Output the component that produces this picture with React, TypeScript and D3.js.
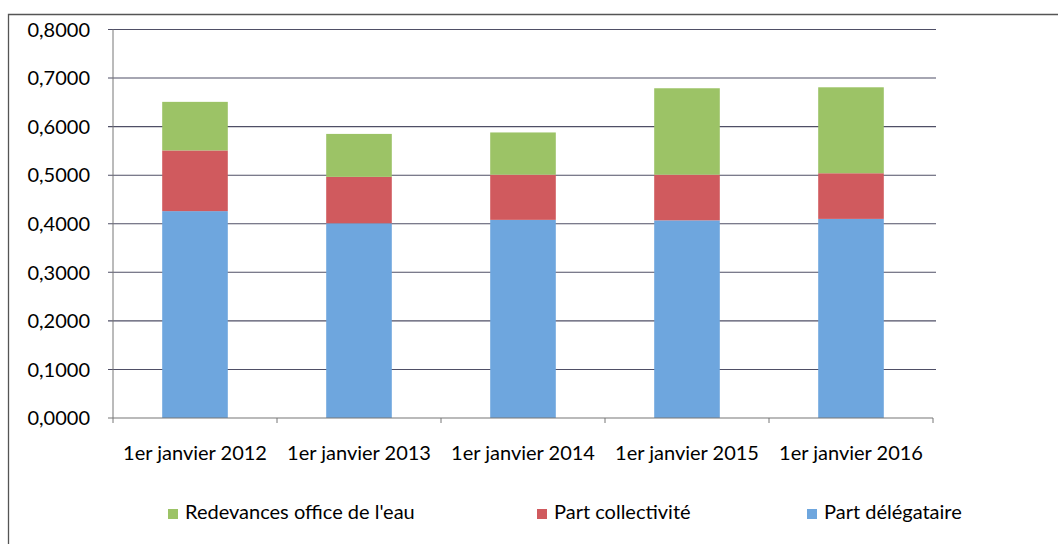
import { useEffect, useRef } from 'react';
import * as d3 from 'd3';

const categories = [
  '1er janvier 2012',
  '1er janvier 2013',
  '1er janvier 2014',
  '1er janvier 2015',
  '1er janvier 2016',
];

// stacked bottom to top
const partDelegataire = [0.426, 0.401, 0.408, 0.407, 0.410];
const partCollectivite = [0.125, 0.0955, 0.093, 0.094, 0.094];
const redevances = [0.100, 0.0885, 0.087, 0.178, 0.177];

const yTicks = [0, 0.1, 0.2, 0.3, 0.4, 0.5, 0.6, 0.7, 0.8];

const series = [
  { key: 'delegataire', label: 'Part délégataire', values: partDelegataire, color: '#6ea6de' },
  { key: 'collectivite', label: 'Part collectivité', values: partCollectivite, color: '#d05a5e' },
  { key: 'redevances', label: "Redevances office de l'eau", values: redevances, color: '#9cc366' },
];

// legend order as shown in the picture
const legendOrder = ['redevances', 'collectivite', 'delegataire'];

export default function App() {
  const svgRef = useRef<SVGSVGElement>(null);

  useEffect(() => {
    if (!svgRef.current) return;
    const W = 1058;
    const H = 544;
    const font = 'Lato, "Open Sans", sans-serif';
    const fontSize = 20;

    const svg = d3.select(svgRef.current);
    svg.selectAll('*').remove();
    svg.attr('width', W).attr('height', H);

    svg.append('rect').attr('width', W).attr('height', H).attr('fill', '#fff');

    // outer frame (top + left visible)
    svg.append('path')
      .attr('d', `M8.5,${H} V14.5 H${W}`)
      .attr('fill', 'none')
      .attr('stroke', '#555')
      .attr('stroke-width', 1.3);

    const left = 113;
    const right = 933;
    const top = 29.5;
    const bottom = 418;

    const x = d3.scaleBand<string>()
      .domain(categories)
      .range([left, right])
      .paddingInner(0.6)
      .paddingOuter(0.3);

    const y = d3.scaleLinear().domain([0, 0.8]).range([bottom, top]);

    // gridlines
    svg.append('g')
      .selectAll('line')
      .data(yTicks.filter(t => t > 0))
      .enter()
      .append('line')
      .attr('x1', left - 5)
      .attr('x2', right + 3)
      .attr('y1', d => y(d))
      .attr('y2', d => y(d))
      .attr('stroke', '#4f4f66')
      .attr('stroke-width', 1.1);

    // y labels
    svg.append('g')
      .selectAll('text')
      .data(yTicks)
      .enter()
      .append('text')
      .attr('x', 90)
      .attr('y', d => y(d))
      .attr('dy', '0.36em')
      .attr('text-anchor', 'end')
      .attr('font-family', font)
      .attr('font-size', fontSize)
      .attr('fill', '#000')
      .text(d => d.toFixed(4).replace('.', ','));

    // stacked bars
    const table = categories.map((c, i) => {
      const row: Record<string, number | string> = { cat: c };
      series.forEach(s => { row[s.key] = s.values[i]; });
      return row;
    });
    const stack = d3.stack<Record<string, number | string>>()
      .keys(series.map(s => s.key))
      .value((d, k) => d[k] as number);
    const stacked = stack(table);

    const layers = svg.append('g')
      .selectAll('g')
      .data(stacked)
      .enter()
      .append('g')
      .attr('fill', (_, i) => series[i].color);

    layers.selectAll('rect')
      .data(d => d)
      .enter()
      .append('rect')
      .attr('x', d => x(d.data.cat as string) || 0)
      .attr('width', x.bandwidth())
      .attr('y', d => y(d[1]))
      .attr('height', d => y(d[0]) - y(d[1]));

    // axes lines
    svg.append('line')
      .attr('x1', left).attr('x2', left)
      .attr('y1', top).attr('y2', bottom)
      .attr('stroke', '#777').attr('stroke-width', 1);
    svg.append('line')
      .attr('x1', left - 5).attr('x2', right)
      .attr('y1', bottom).attr('y2', bottom)
      .attr('stroke', '#777').attr('stroke-width', 1.2);

    // category boundary ticks
    const boundaries = categories.map(c => (x(c) || 0) - x.step() * x.paddingInner() / 2);
    boundaries.push(right);
    boundaries[0] = left;
    svg.append('g')
      .selectAll('line')
      .data(boundaries)
      .enter()
      .append('line')
      .attr('x1', d => d).attr('x2', d => d)
      .attr('y1', bottom).attr('y2', bottom + 5)
      .attr('stroke', '#777');

    // x labels
    svg.append('g')
      .selectAll('text')
      .data(categories)
      .enter()
      .append('text')
      .attr('x', d => (x(d) || 0) + x.bandwidth() / 2)
      .attr('y', 460)
      .attr('text-anchor', 'middle')
      .attr('font-family', font)
      .attr('font-size', fontSize)
      .attr('fill', '#000')
      .text(d => d);

    // legend
    const legendX = [168, 537, 807];
    const legend = svg.append('g')
      .selectAll('g')
      .data(legendOrder.map(k => series.find(s => s.key === k)!))
      .enter()
      .append('g')
      .attr('transform', (_, i) => `translate(${legendX[i]},519)`);
    legend.append('rect')
      .attr('x', 0).attr('y', -10)
      .attr('width', 10).attr('height', 10)
      .attr('fill', d => d.color);
    legend.append('text')
      .attr('x', 17)
      .attr('y', 0)
      .attr('font-family', font)
      .attr('font-size', fontSize)
      .attr('fill', '#000')
      .text(d => d.label);
  }, []);

  return <svg ref={svgRef} style={{ position: 'absolute', left: 0, top: 0, display: 'block' }} />;
}
